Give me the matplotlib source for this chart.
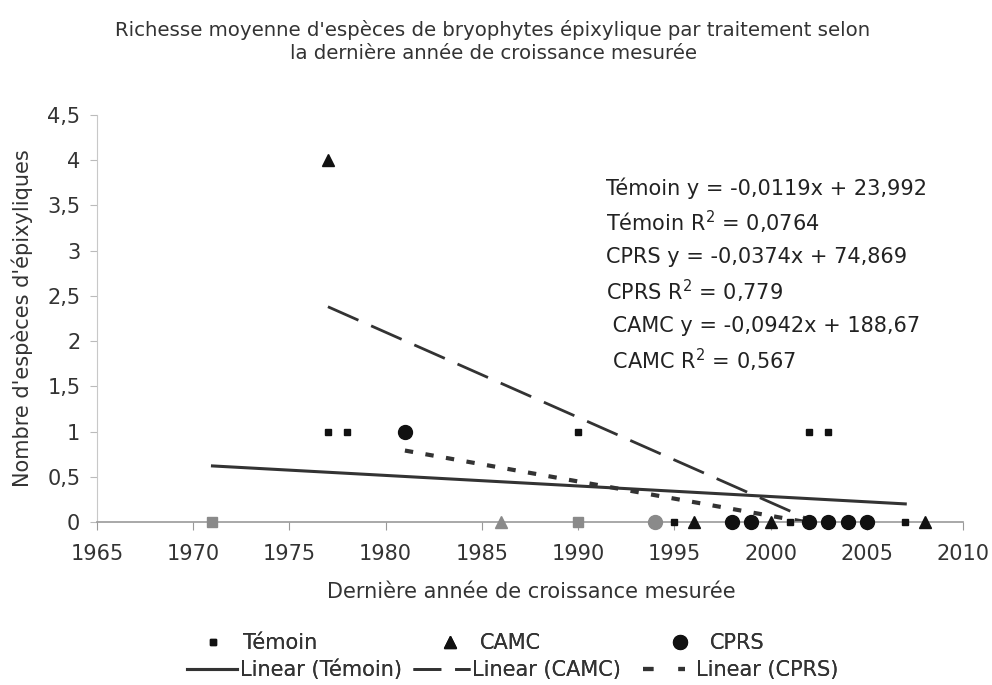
import matplotlib
matplotlib.use("Agg")
import matplotlib.pyplot as plt
from matplotlib.ticker import FuncFormatter, MultipleLocator

# points: (année, richesse) par traitement
temoin_x = [1977, 1978, 1990, 2002, 2003, 1995, 2001, 2002, 2007]
temoin_y = [1, 1, 1, 1, 1, 0, 0, 0, 0]
temoin_gray_x = [1971, 1990]
temoin_gray_y = [0, 0]

camc_x = [1977, 1996, 2000, 2008]
camc_y = [4, 0, 0, 0]
camc_gray_x = [1986]
camc_gray_y = [0]

cprs_x = [1981, 1998, 1999, 2002, 2003, 2004, 2005]
cprs_y = [1, 0, 0, 0, 0, 0, 0]
cprs_gray_x = [1994]
cprs_gray_y = [0]

# tendances linéaires (extrémités)
trend_temoin_x = [1971, 2007]
trend_temoin_y = [0.62, 0.20]
trend_camc_x = [1977, 2002.3]
trend_camc_y = [2.38, 0.0]
trend_cprs_x = [1981, 2001.8]
trend_cprs_y = [0.79, 0.0]

equations = [
    "Témoin y = -0,0119x + 23,992",
    "Témoin R$^2$ = 0,0764",
    "CPRS y = -0,0374x + 74,869",
    "CPRS R$^2$ = 0,779",
    " CAMC y = -0,0942x + 188,67",
    " CAMC R$^2$ = 0,567",
]

TXT = "#333333"
DARK = "#111111"
GRAY = "#8a8a8a"
LINE = "#333333"
plt.rcParams["font.family"] = ["DejaVu Sans"]

W, H = 992, 685
fig = plt.figure(figsize=(W / 100, H / 100), dpi=100)
ax = fig.add_axes([97 / W, 1 - 522 / H, 866 / W, 407 / H])

kw = dict(ls="none", clip_on=False, zorder=5)
ax.plot(temoin_x, temoin_y, "s", color=DARK, ms=5, **kw)
ax.plot(temoin_gray_x, temoin_gray_y, "s", color=GRAY, ms=7, **kw)
ax.plot(camc_x, camc_y, "^", color=DARK, ms=9, **kw)
ax.plot(camc_gray_x, camc_gray_y, "^", color=GRAY, ms=9, **kw)
ax.plot(cprs_x, cprs_y, "o", color=DARK, ms=10, **kw)
ax.plot(cprs_gray_x, cprs_gray_y, "o", color=GRAY, ms=10, **kw)

ax.plot(trend_temoin_x, trend_temoin_y, "-", color=LINE, lw=2.2)
ax.plot(trend_camc_x, trend_camc_y, color=LINE, lw=2, dashes=(12, 5))
ax.plot(trend_cprs_x, trend_cprs_y, color=LINE, lw=3, dashes=(2, 3))

ax.set_xlim(1965, 2010)
ax.set_ylim(0, 4.5)
ax.xaxis.set_major_locator(MultipleLocator(5))
ax.yaxis.set_major_locator(MultipleLocator(0.5))
ax.yaxis.set_major_formatter(FuncFormatter(lambda v, p: f"{v:g}".replace(".", ",")))
for s in ["top", "right"]:
    ax.spines[s].set_visible(False)
ax.spines["left"].set_color("#c8c8c8")
ax.spines["bottom"].set_color("#999999")
ax.spines["bottom"].set_linewidth(1.2)
ax.tick_params(axis="y", colors="#bbbbbb", labelcolor=TXT, labelsize=15, length=5, pad=7)
ax.tick_params(axis="x", colors="#999999", labelcolor=TXT, labelsize=15, length=6, pad=10)

ax.set_xlabel("Dernière année de croissance mesurée", fontsize=15, color=TXT)
ax.xaxis.set_label_coords(0.501, -0.148)
ax.set_ylabel("Nombre d'espèces d'épixyliques", fontsize=15, color=TXT)
ax.yaxis.set_label_coords(-0.074, 0.5)

fig.text(0.497, 1 - 20 / H,
         "Richesse moyenne d'espèces de bryophytes épixylique par traitement selon\n"
         "la dernière année de croissance mesurée",
         fontsize=14.2, color=TXT, ha="center", va="top", linespacing=1.25)

for i, t in enumerate(equations):
    fig.text(606 / W, 1 - (188 + i * 34.4) / H, t, fontsize=15, color="#222222", va="center")


def entry(handle, label, x0, y, hl, pad):
    leg = fig.legend([handle], [label], loc="center left",
                     bbox_to_anchor=(x0 / W, 1 - y / H), frameon=False,
                     fontsize=15, labelcolor=TXT, handlelength=hl,
                     handletextpad=pad, borderpad=0, borderaxespad=0)
    fig.add_artist(leg)


h1, = ax.plot([], [], "s", color=DARK, ms=5)
h3, = ax.plot([], [], "^", color=DARK, ms=9)
h5, = ax.plot([], [], "o", color=DARK, ms=10)
h2, = ax.plot([], [], "-", color=LINE, lw=2.2)
h4, = ax.plot([], [], color=LINE, lw=2, dashes=(10, 5))
h6, = ax.plot([], [], color=LINE, lw=3, dashes=(2.5, 6))

entry(h1, "Témoin", 203, 643, 1.0, 0.9)
entry(h3, "CAMC", 440, 643, 1.0, 0.9)
entry(h5, "CPRS", 670, 643, 1.0, 0.9)
entry(h2, "Linear (Témoin)", 187, 670, 2.4, 0.15)
entry(h4, "Linear (CAMC)", 413, 670, 2.75, 0.1)
entry(h6, "Linear (CPRS)", 643, 670, 2.0, 0.55)

fig.savefig("out.png", dpi=100)
